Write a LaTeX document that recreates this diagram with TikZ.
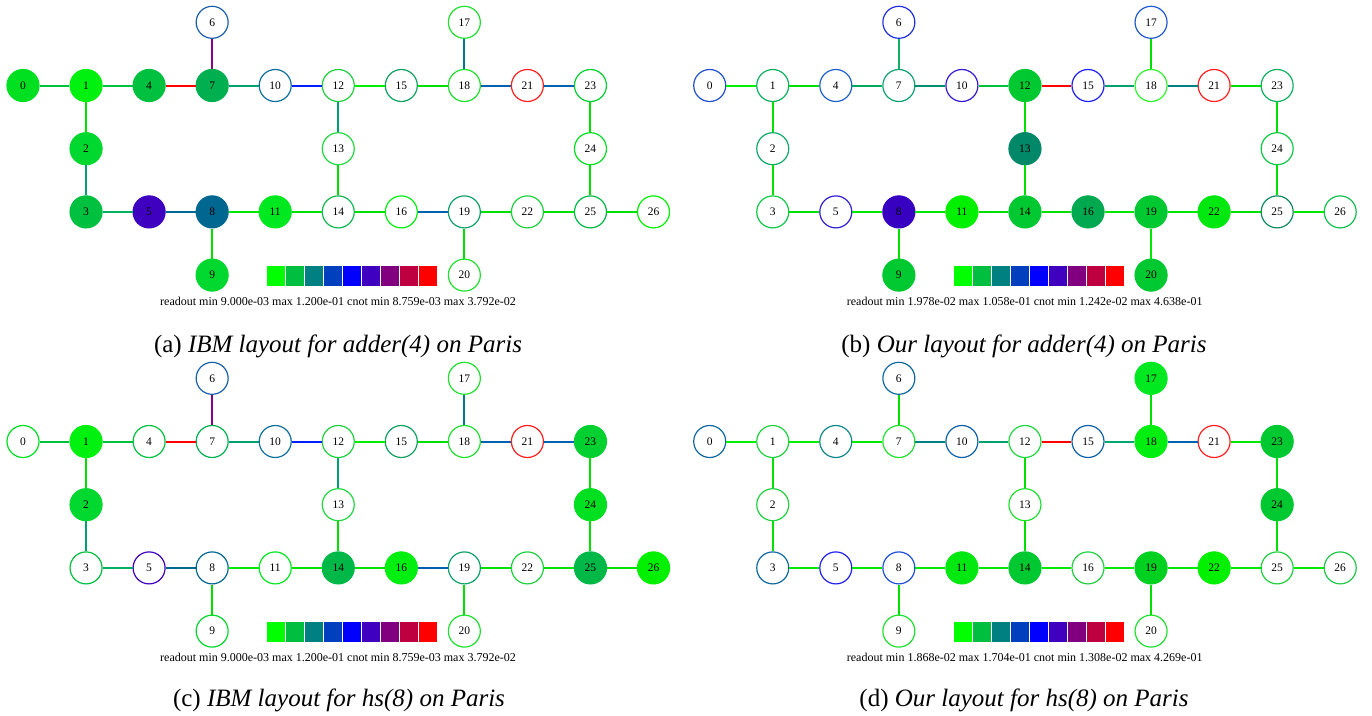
\documentclass[tikz,border=0pt]{standalone}
\usepackage{fontspec}
\setmainfont{Liberation Serif}
\tikzset{
  qb/.style={circle, minimum size=32pt, inner sep=0pt, line width=1.2pt, text=black, font=\fontsize{11.5}{12}\selectfont},
  edge/.style={line width=2pt},
  qfill/.style={fill=nc},
  qopen/.style={fill=white},
  readout/.style={inner sep=0pt, font=\fontsize{12}{14}\selectfont},
  capt/.style={inner sep=0pt, font=\fontsize{25}{28}\selectfont},
  cell/.style={draw=white, line width=0.4pt},
}
\newcommand\qpanel[4]{%
  \begin{scope}[shift={(#2,#3)}]
  \foreach \i/\c/\f in {#4}{%
    \pgfmathsetmacro\cx{{0,1,1,1,2,2,3,3,3,3,4,4,5,5,5,6,6,7,7,7,7,8,8,9,9,9,10}[\i]}%
    \pgfmathsetmacro\cy{{1,1,2,3,1,3,0,1,3,4,1,3,1,2,3,1,3,0,1,3,4,1,3,1,2,3,3}[\i]}%
    \definecolor{nc}{HTML}{\c}%
    \node[qb, draw=nc, \f] (#1\i) at ({23+63.05*\cx},{22.3+63.2*\cy}) {\i};
  }
  \foreach \k/\c in {0/00FF00,1/00BF40,2/008080,3/0040BF,4/0000FF,5/4000BF,6/800080,7/BF0040,8/FF0000}{%
    \definecolor{bc}{HTML}{\c}%
    \filldraw[cell, fill=bc] ({266+19*\k},265) rectangle +(19,21);
  }
  \end{scope}}
\newcommand\qedges[2]{%
  \foreach \u/\v/\c in {#2}{%
    \definecolor{ec}{HTML}{\c}%
    \draw[edge, draw=ec] (#1\u) -- (#1\v);
  }}
\begin{document}
\begin{tikzpicture}[x=1pt, y=-1pt]
\useasboundingbox (0,0) rectangle (1372,715);
\fill[white] (0,0) rectangle (1372,715);

% (a)
\qpanel{a}{0}{0}{0/00E020/qfill, 1/00F010/qfill, 2/00D830/qfill, 3/00C040/qfill, 4/00C040/qfill, 5/4000C0/qfill, 6/1A60A8/qopen, 7/00B050/qfill, 8/006890/qfill, 9/00D830/qfill, 10/10709A/qopen, 11/00E820/qfill, 12/20D040/qopen, 13/20D840/qopen, 14/10B850/qopen, 15/10A060/qopen, 16/00EE10/qopen, 17/20E030/qopen, 18/20E030/qopen, 19/10A068/qopen, 20/20E030/qopen, 21/FF2020/qopen, 22/20D040/qopen, 23/00D030/qopen, 24/00E020/qopen, 25/00B848/qopen, 26/00F000/qopen}
\qedges{a}{0/1/00C040, 1/4/00C040, 4/7/FF0000, 6/7/900090, 7/10/00A070, 10/12/0020FF, 12/15/00EE00, 15/18/00E000, 17/18/007890, 18/21/0060B0, 21/23/0060B0, 1/2/00E000, 2/3/00A070, 12/13/00A070, 13/14/00E000, 23/24/00E000, 24/25/00E000, 3/5/00B060, 5/8/006890, 8/11/00E800, 8/9/00E000, 11/14/00E000, 14/16/00E000, 16/19/0060B0, 19/22/00E000, 22/25/00E000, 25/26/00E000, 19/20/00E000}
\node[readout] (ra) at (338,301) {readout min 9.000e-03 max 1.200e-01 cnot min 8.759e-03 max 3.792e-02};
\node[capt] (ca) at (338,346) {(a) \textit{IBM layout for adder(4) on Paris}};

% (b)
\qpanel{b}{686.7}{0}{0/2050D0/qopen, 1/10B060/qopen, 2/10A868/qopen, 3/10C848/qopen, 4/2060C8/qopen, 5/3020D0/qopen, 6/2030E0/qopen, 7/10A070/qopen, 8/3800C0/qfill, 9/00C830/qfill, 10/3818D0/qopen, 11/00F000/qfill, 12/00C830/qfill, 13/008868/qfill, 14/00C830/qfill, 15/2020F0/qopen, 16/00A850/qfill, 17/2058D0/qopen, 18/30F030/qopen, 19/00C830/qfill, 20/00C830/qfill, 21/FF2020/qopen, 22/00E810/qfill, 23/10B060/qopen, 24/10C848/qopen, 25/108860/qopen, 26/10C050/qopen}
\qedges{b}{0/1/00F000, 1/4/00E000, 4/7/00A860, 6/7/10B060, 7/10/009070, 10/12/00C040, 12/15/FF0000, 15/18/00A070, 17/18/00E000, 18/21/008080, 21/23/00E000, 1/2/00E000, 2/3/00E000, 12/13/00E000, 13/14/00E000, 3/5/00E000, 5/8/00E800, 8/11/00E800, 11/14/00E000, 8/9/00E000, 14/16/00E000, 16/19/00E800, 19/22/00E800, 22/25/00E000, 25/26/00E800, 19/20/00E800, 23/24/00E000, 24/25/00E000}
\node[readout] (rb) at (1024.7,301) {readout min 1.978e-02 max 1.058e-01 cnot min 1.242e-02 max 4.638e-01};
\node[capt] (cb) at (1024,346) {(b) \textit{Our layout for adder(4) on Paris}};

% (c)
\qpanel{c}{0}{356}{0/00E020/qopen, 1/00F010/qfill, 2/00D830/qfill, 3/00C040/qopen, 4/00C040/qopen, 5/4000C0/qopen, 6/1A60A8/qopen, 7/00B050/qopen, 8/006890/qopen, 9/00D830/qopen, 10/10709A/qopen, 11/00E820/qopen, 12/20D040/qopen, 13/20D840/qopen, 14/00B848/qfill, 15/10A060/qopen, 16/00EE10/qfill, 17/20E030/qopen, 18/20E030/qopen, 19/10A068/qopen, 20/20E030/qopen, 21/FF2020/qopen, 22/20D040/qopen, 23/00D030/qfill, 24/00E020/qfill, 25/00B848/qfill, 26/00F000/qfill}
\qedges{c}{0/1/00C040, 1/4/00C040, 4/7/FF0000, 6/7/900090, 7/10/00A070, 10/12/0020FF, 12/15/00EE00, 15/18/00E000, 17/18/007890, 18/21/0060B0, 21/23/0060B0, 1/2/00E000, 2/3/00A070, 12/13/00A070, 13/14/00E000, 23/24/00E000, 24/25/00E000, 3/5/00B060, 5/8/006890, 8/11/00E800, 8/9/00E000, 11/14/00E000, 14/16/00E000, 16/19/0060B0, 19/22/00E000, 22/25/00E000, 25/26/00E000, 19/20/00E000}
\node[readout] (rc) at (338,657) {readout min 9.000e-03 max 1.200e-01 cnot min 8.759e-03 max 3.792e-02};
\node[capt] (cc) at (339,700) {(c) \textit{IBM layout for hs(8) on Paris}};

% (d)
\qpanel{d}{686.7}{356}{0/1068A0/qopen, 1/20D040/qopen, 2/20D040/qopen, 3/1068A0/qopen, 4/108888/qopen, 5/2020F0/qopen, 6/1068A0/qopen, 7/20E030/qopen, 8/2050D8/qopen, 9/20E030/qopen, 10/1060A8/qopen, 11/00E810/qfill, 12/20D840/qopen, 13/20E030/qopen, 14/00C830/qfill, 15/1060A8/qopen, 16/20D040/qopen, 17/00E820/qfill, 18/00EE10/qfill, 19/00D020/qfill, 20/20E030/qopen, 21/FF2020/qopen, 22/00F000/qfill, 23/00C830/qfill, 24/00C830/qfill, 25/20D040/qopen, 26/20C848/qopen}
\qedges{d}{0/1/00F000, 1/4/00F000, 4/7/00E800, 6/7/00E000, 7/10/008080, 10/12/00A070, 12/15/FF0000, 15/18/00A870, 17/18/00E000, 18/21/0060B0, 21/23/00E800, 1/2/00E000, 2/3/00E000, 12/13/00E000, 13/14/00E000, 23/24/00E000, 24/25/00E000, 3/5/00E800, 5/8/00E800, 8/11/00E800, 8/9/00E000, 11/14/00E800, 14/16/00E800, 16/19/00E800, 19/22/00E800, 22/25/00E800, 25/26/00E800, 19/20/00E000}
\node[readout] (rd) at (1024.7,657) {readout min 1.868e-02 max 1.704e-01 cnot min 1.308e-02 max 4.269e-01};
\node[capt] (cd) at (1024,700) {(d) \textit{Our layout for hs(8) on Paris}};
\end{tikzpicture}
\end{document}
